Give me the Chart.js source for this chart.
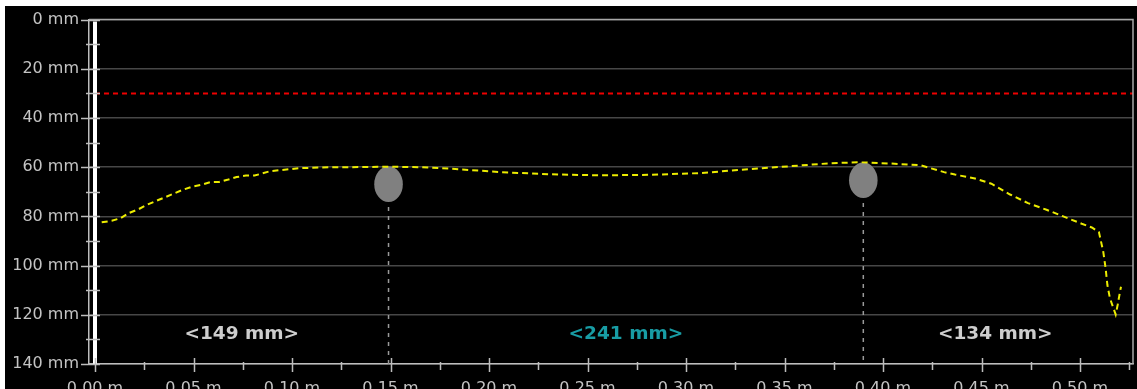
<!DOCTYPE html>
<html>
<head>
<meta charset="utf-8">
<script src="https://cdn.jsdelivr.net/npm/chart.js@4.4.1/dist/chart.umd.min.js"></script>
<style>
html,body{margin:0;padding:0;background:#fff;overflow:hidden;}
#wrap{position:absolute;left:0;top:0;width:1137px;height:389px;}
</style>
</head>
<body>
<div id="wrap"><canvas id="profileChart"></canvas></div>
<script>
// measured profile (x in m, depth in mm)
const profileX = [0.0034,0.0085,0.013,0.0173,0.0223,0.0266,0.0313,0.0359,0.0406,0.0448,0.0494,0.0542,0.0584,0.063,0.0677,0.0719,0.0766,0.081,0.089,0.104,0.119,0.129,0.150,0.165,0.180,0.206,0.231,0.256,0.282,0.307,0.332,0.358,0.373,0.388,0.406,0.419,0.431,0.4365,0.4467,0.455,0.4645,0.4736,0.483,0.4915,0.5009,0.506,0.5096,0.5118,0.513,0.5139,0.5152,0.5181,0.5191,0.52,0.5208];
const profileY = [82.4,81.8,80.7,78.6,77,75.2,73.6,72.1,70.5,69.1,67.9,67.1,66.1,66,65,64,63.4,63.4,61.6,60.4,60,60,59.8,60,60.6,62,62.9,63.3,63.1,62.4,60.8,59.3,58.4,58,58.6,59.2,62,63,64.6,66.7,71.1,74.6,77.3,80,83,84.5,86.4,94.3,101.1,107.9,113.3,119.9,116,112,108.6];

const limitY = 30;
const supportX = [0.149, 0.390];
const supportY = [66.9, 65.3];
const supportDia = 14.5;

const spanEdges = [0, 0.149, 0.390, 0.524];
const spanLabels = ['<149 mm>', '<241 mm>', '<134 mm>'];
const spanColors = ['#cdcdcd', '#189ca4', '#cdcdcd'];
const spanLabelY = 128;

const xTicks = [0, 0.05, 0.10, 0.15, 0.20, 0.25, 0.30, 0.35, 0.40, 0.45, 0.50];
const yTicks = [0, 20, 40, 60, 80, 100, 120, 140];

const X_MIN = -0.00305, X_MAX = 0.5269;
const axisColor = '#bdbdbd';
const textColor = '#c4c4c4';
const tickFont = {family:"'DejaVu Sans'", size:16};

const marks = {
  id:'marks',
  beforeDraw(chart){
    const c = chart.ctx;
    c.save();
    c.fillStyle = '#fff'; c.fillRect(0,0,chart.width,chart.height);
    c.fillStyle = '#000'; c.fillRect(5,6,chart.width-5,chart.height-6);
    c.restore();
  },
  beforeDatasetsDraw(chart){
    const c = chart.ctx, xs = chart.scales.x, ys = chart.scales.y;
    c.save();
    c.fillStyle = '#808080';
    supportX.forEach((sx,i)=>{
      const cx = xs.getPixelForValue(sx), cy = ys.getPixelForValue(supportY[i]);
      const rx = Math.abs(xs.getPixelForValue(sx + supportDia/2000) - cx);
      const ry = Math.abs(ys.getPixelForValue(supportY[i] + supportDia/2) - cy);
      c.beginPath(); c.ellipse(cx, cy, rx, ry, 0, 0, Math.PI*2); c.fill();
    });
    c.restore();
  },
  afterDatasetsDraw(chart){
    const c = chart.ctx, xs = chart.scales.x, ys = chart.scales.y, a = chart.chartArea;
    c.save();
    c.lineWidth = 1.5;
    // frame top / right
    c.strokeStyle = '#a8a8a8';
    c.beginPath(); c.moveTo(a.left, a.top); c.lineTo(a.right, a.top); c.lineTo(a.right, a.bottom); c.stroke();
    c.strokeStyle = axisColor;
    // y ticks
    for(let v=0; v<=140; v+=10){
      const py = Math.round(ys.getPixelForValue(v)) + 0.5;
      const major = v%20===0;
      c.beginPath(); c.moveTo(a.left-(major?8:3), py); c.lineTo(a.left+11, py); c.stroke();
    }
    // x ticks
    for(let k=0; k<=21; k++){
      const px = Math.round(xs.getPixelForValue(k*0.025)) + 0.5;
      const major = k%2===0;
      c.beginPath(); c.moveTo(px, a.bottom-(major?6:2)); c.lineTo(px, a.bottom+(major?8:6)); c.stroke();
    }
    // span labels
    c.font = "bold 18.5px 'DejaVu Sans'";
    c.textAlign = 'center'; c.textBaseline = 'middle';
    spanLabels.forEach((t,i)=>{
      c.fillStyle = spanColors[i];
      c.fillText(t, xs.getPixelForValue((spanEdges[i]+spanEdges[i+1])/2), ys.getPixelForValue(spanLabelY));
    });
    c.restore();
  }
};

const datasets = [
  {data: profileX.map((x,i)=>({x, y:profileY[i]})), borderColor:'#ecec00', borderWidth:2, borderDash:[6,4]},
  {data: [{x:0,y:0.8},{x:0,y:140}], borderColor:'#ffffff', borderWidth:4},
  {data: [{x:0,y:limitY},{x:X_MAX,y:limitY}], borderColor:'#ee0000', borderWidth:2, borderDash:[5,4]}
];
supportX.forEach((sx,i)=>{
  datasets.push({data:[{x:sx,y:supportY[i]+supportDia/2+2},{x:sx,y:140}], borderColor:'#9a9a9a', borderWidth:1.5, borderDash:[4,5]});
});
datasets.forEach(d=>{ d.showLine = true; d.pointRadius = 0; d.tension = 0; d.fill = false; });

new Chart(document.getElementById('profileChart').getContext('2d'), {
  type:'scatter',
  data:{datasets},
  options:{
    responsive:true, maintainAspectRatio:false, animation:false,
    layout:{padding:{top:13,right:4,left:0,bottom:0}},
    plugins:{legend:{display:false}, tooltip:{enabled:false}},
    scales:{
      x:{
        type:'linear', min:X_MIN, max:X_MAX,
        afterBuildTicks:s=>{ s.ticks = xTicks.map(v=>({value:v})); },
        afterFit:s=>{ s.height = 25; },
        ticks:{callback:v=>v.toFixed(2)+' m', color:textColor, font:tickFont, padding:15, maxRotation:0, minRotation:0, autoSkip:false},
        grid:{display:false, drawTicks:false},
        border:{display:true, color:axisColor, width:1.5}
      },
      y:{
        min:0, max:140, reverse:true,
        afterBuildTicks:s=>{ s.ticks = yTicks.map(v=>({value:v})); },
        afterFit:s=>{ s.width = 89; },
        ticks:{callback:v=>v+' mm', color:textColor, font:tickFont, padding:10},
        grid:{color:'#474747', lineWidth:1.5, drawTicks:false},
        border:{display:true, color:axisColor, width:1.5}
      }
    }
  },
  plugins:[marks]
});
</script>
</body>
</html>
